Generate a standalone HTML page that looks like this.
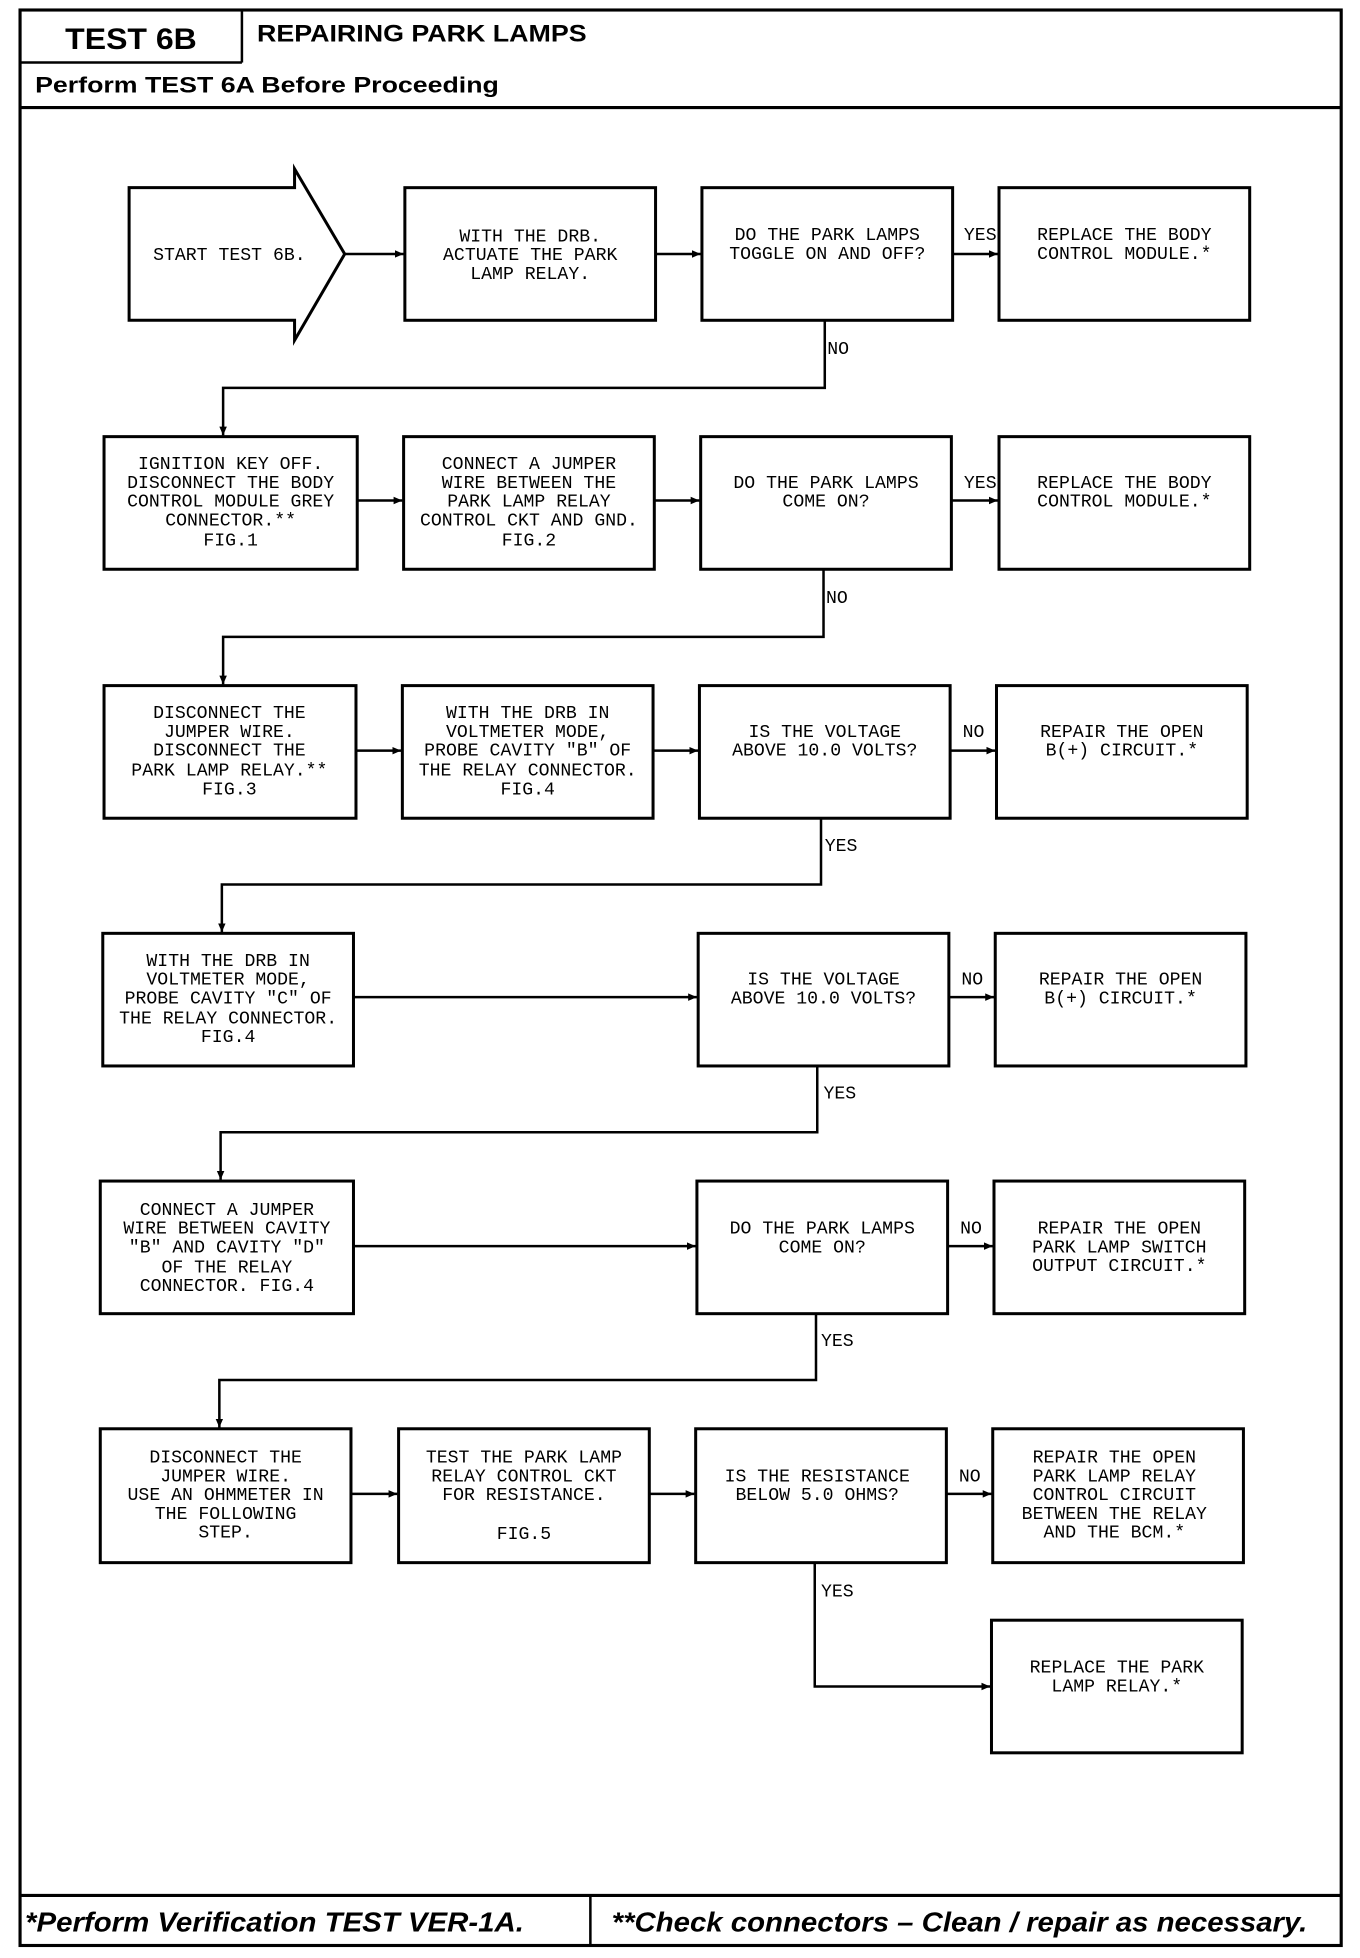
<!DOCTYPE html>
<html><head><meta charset="utf-8"><style>
html,body{margin:0;padding:0;background:#fff;width:1360px;height:1958px;overflow:hidden}
svg{display:block}
.t{font-family:"Liberation Mono",monospace;font-size:14.5px;fill:#000;text-anchor:middle}
.l{font-family:"Liberation Mono",monospace;font-size:14.5px;fill:#000}
.h{font-family:"Liberation Sans",sans-serif;font-weight:bold;fill:#000}
.b{fill:none;stroke:#000;stroke-width:2.4}
.c{fill:none;stroke:#000;stroke-width:2}
</style></head><body>
<svg width="1360" height="1958" viewBox="0 0 1085 1565" preserveAspectRatio="none" xmlns="http://www.w3.org/2000/svg">
<defs><marker id="a" markerWidth="8" markerHeight="8" refX="7" refY="4" orient="auto" markerUnits="userSpaceOnUse"><path d="M0,1 L7,4 L0,7z" fill="#000"/></marker></defs>
<!-- frame -->
<rect x="16" y="8" width="1054" height="1547" fill="none" stroke="#000" stroke-width="2.5"/>
<line x1="193" y1="8" x2="193" y2="50" stroke="#000" stroke-width="2"/>
<line x1="16" y1="50" x2="193" y2="50" stroke="#000" stroke-width="2"/>
<line x1="16" y1="86" x2="1070" y2="86" stroke="#000" stroke-width="2.5"/>
<line x1="16" y1="1515" x2="1070" y2="1515" stroke="#000" stroke-width="2.5"/>
<line x1="471" y1="1515" x2="471" y2="1555" stroke="#000" stroke-width="2"/>
<text class="h" x="52" y="39" font-size="24" textLength="105" lengthAdjust="spacingAndGlyphs">TEST 6B</text>
<text class="h" x="205" y="33" font-size="19" textLength="263" lengthAdjust="spacingAndGlyphs">REPAIRING PARK LAMPS</text>
<text class="h" x="28" y="74" font-size="18" textLength="370" lengthAdjust="spacingAndGlyphs">Perform TEST 6A Before Proceeding</text>
<text class="h" x="20" y="1544" font-size="22" font-style="italic" textLength="398" lengthAdjust="spacingAndGlyphs">*Perform Verification TEST VER-1A.</text>
<text class="h" x="488" y="1544" font-size="22" font-style="italic" textLength="555" lengthAdjust="spacingAndGlyphs">**Check connectors – Clean / repair as necessary.</text>

<!-- row1 -->
<path class="b" d="M103,150 L235,150 L235,135 L275,203 L235,272 L235,256 L103,256 Z"/>
<text class="t" x="183" y="208">START TEST 6B.</text>
<rect class="b" x="323" y="150" width="200" height="106"/>
<text class="t" x="423" y="193">WITH THE DRB.</text><text class="t" x="423" y="208">ACTUATE THE PARK</text><text class="t" x="423" y="223">LAMP RELAY.</text>
<rect class="b" x="560" y="150" width="200" height="106"/>
<text class="t" x="660" y="192">DO THE PARK LAMPS</text><text class="t" x="660" y="207">TOGGLE ON AND OFF?</text>
<rect class="b" x="797" y="150" width="200" height="106"/>
<text class="t" x="897" y="192">REPLACE THE BODY</text><text class="t" x="897" y="207">CONTROL MODULE.*</text>
<line class="c" x1="275" y1="203" x2="322" y2="203" marker-end="url(#a)"/>
<line class="c" x1="523" y1="203" x2="559" y2="203" marker-end="url(#a)"/>
<line class="c" x1="760" y1="203" x2="796" y2="203" marker-end="url(#a)"/>
<text class="l" x="769" y="192">YES</text>
<polyline class="c" points="658,256 658,310 178,310 178,348" marker-end="url(#a)"/>
<text class="l" x="660" y="283">NO</text>

<!-- row2 -->
<rect class="b" x="83" y="349" width="202" height="106"/>
<text class="t" x="184" y="375">IGNITION KEY OFF.</text><text class="t" x="184" y="390">DISCONNECT THE BODY</text><text class="t" x="184" y="405">CONTROL MODULE GREY</text><text class="t" x="184" y="420">CONNECTOR.**</text><text class="t" x="184" y="436">FIG.1</text>
<rect class="b" x="322" y="349" width="200" height="106"/>
<text class="t" x="422" y="375">CONNECT A JUMPER</text><text class="t" x="422" y="390">WIRE BETWEEN THE</text><text class="t" x="422" y="405">PARK LAMP RELAY</text><text class="t" x="422" y="420">CONTROL CKT AND GND.</text><text class="t" x="422" y="436">FIG.2</text>
<rect class="b" x="559" y="349" width="200" height="106"/>
<text class="t" x="659" y="390">DO THE PARK LAMPS</text><text class="t" x="659" y="405">COME ON?</text>
<rect class="b" x="797" y="349" width="200" height="106"/>
<text class="t" x="897" y="390">REPLACE THE BODY</text><text class="t" x="897" y="405">CONTROL MODULE.*</text>
<line class="c" x1="285" y1="400" x2="321" y2="400" marker-end="url(#a)"/>
<line class="c" x1="522" y1="400" x2="558" y2="400" marker-end="url(#a)"/>
<line class="c" x1="759" y1="400" x2="796" y2="400" marker-end="url(#a)"/>
<text class="l" x="769" y="390">YES</text>
<polyline class="c" points="657,455 657,509 178,509 178,547" marker-end="url(#a)"/>
<text class="l" x="659" y="482">NO</text>

<!-- row3 -->
<rect class="b" x="83" y="548" width="201" height="106"/>
<text class="t" x="183" y="574">DISCONNECT THE</text><text class="t" x="183" y="589">JUMPER WIRE.</text><text class="t" x="183" y="604">DISCONNECT THE</text><text class="t" x="183" y="620">PARK LAMP RELAY.**</text><text class="t" x="183" y="635">FIG.3</text>
<rect class="b" x="321" y="548" width="200" height="106"/>
<text class="t" x="421" y="574">WITH THE DRB IN</text><text class="t" x="421" y="589">VOLTMETER MODE,</text><text class="t" x="421" y="604">PROBE CAVITY "B" OF</text><text class="t" x="421" y="620">THE RELAY CONNECTOR.</text><text class="t" x="421" y="635">FIG.4</text>
<rect class="b" x="558" y="548" width="200" height="106"/>
<text class="t" x="658" y="589">IS THE VOLTAGE</text><text class="t" x="658" y="604">ABOVE 10.0 VOLTS?</text>
<rect class="b" x="795" y="548" width="200" height="106"/>
<text class="t" x="895" y="589">REPAIR THE OPEN</text><text class="t" x="895" y="604">B(+) CIRCUIT.*</text>
<line class="c" x1="284" y1="600" x2="320" y2="600" marker-end="url(#a)"/>
<line class="c" x1="521" y1="600" x2="557" y2="600" marker-end="url(#a)"/>
<line class="c" x1="758" y1="600" x2="794" y2="600" marker-end="url(#a)"/>
<text class="l" x="768" y="589">NO</text>
<polyline class="c" points="655,654 655,707 177,707 177,745" marker-end="url(#a)"/>
<text class="l" x="658" y="680">YES</text>

<!-- row4 -->
<rect class="b" x="82" y="746" width="200" height="106"/>
<text class="t" x="182" y="772">WITH THE DRB IN</text><text class="t" x="182" y="787">VOLTMETER MODE,</text><text class="t" x="182" y="802">PROBE CAVITY "C" OF</text><text class="t" x="182" y="818">THE RELAY CONNECTOR.</text><text class="t" x="182" y="833">FIG.4</text>
<rect class="b" x="557" y="746" width="200" height="106"/>
<text class="t" x="657" y="787">IS THE VOLTAGE</text><text class="t" x="657" y="802">ABOVE 10.0 VOLTS?</text>
<rect class="b" x="794" y="746" width="200" height="106"/>
<text class="t" x="894" y="787">REPAIR THE OPEN</text><text class="t" x="894" y="802">B(+) CIRCUIT.*</text>
<line class="c" x1="282" y1="797" x2="556" y2="797" marker-end="url(#a)"/>
<line class="c" x1="757" y1="797" x2="793" y2="797" marker-end="url(#a)"/>
<text class="l" x="767" y="787">NO</text>
<polyline class="c" points="652,852 652,905 176,905 176,943" marker-end="url(#a)"/>
<text class="l" x="657" y="878">YES</text>

<!-- row5 -->
<rect class="b" x="80" y="944" width="202" height="106"/>
<text class="t" x="181" y="971">CONNECT A JUMPER</text><text class="t" x="181" y="986">WIRE BETWEEN CAVITY</text><text class="t" x="181" y="1001">"B" AND CAVITY "D"</text><text class="t" x="181" y="1017">OF THE RELAY</text><text class="t" x="181" y="1032">CONNECTOR. FIG.4</text>
<rect class="b" x="556" y="944" width="200" height="106"/>
<text class="t" x="656" y="986">DO THE PARK LAMPS</text><text class="t" x="656" y="1001">COME ON?</text>
<rect class="b" x="793" y="944" width="200" height="106"/>
<text class="t" x="893" y="986">REPAIR THE OPEN</text><text class="t" x="893" y="1001">PARK LAMP SWITCH</text><text class="t" x="893" y="1016">OUTPUT CIRCUIT.*</text>
<line class="c" x1="282" y1="996" x2="555" y2="996" marker-end="url(#a)"/>
<line class="c" x1="756" y1="996" x2="792" y2="996" marker-end="url(#a)"/>
<text class="l" x="766" y="986">NO</text>
<polyline class="c" points="651,1050 651,1103 175,1103 175,1141" marker-end="url(#a)"/>
<text class="l" x="655" y="1076">YES</text>

<!-- row6 -->
<rect class="b" x="80" y="1142" width="200" height="107"/>
<text class="t" x="180" y="1169">DISCONNECT THE</text><text class="t" x="180" y="1184">JUMPER WIRE.</text><text class="t" x="180" y="1199">USE AN OHMMETER IN</text><text class="t" x="180" y="1214">THE FOLLOWING</text><text class="t" x="180" y="1229">STEP.</text>
<rect class="b" x="318" y="1142" width="200" height="107"/>
<text class="t" x="418" y="1169">TEST THE PARK LAMP</text><text class="t" x="418" y="1184">RELAY CONTROL CKT</text><text class="t" x="418" y="1199">FOR RESISTANCE.</text><text class="t" x="418" y="1230">FIG.5</text>
<rect class="b" x="555" y="1142" width="200" height="107"/>
<text class="t" x="652" y="1184">IS THE RESISTANCE</text><text class="t" x="652" y="1199">BELOW 5.0 OHMS?</text>
<rect class="b" x="792" y="1142" width="200" height="107"/>
<text class="t" x="889" y="1169">REPAIR THE OPEN</text><text class="t" x="889" y="1184">PARK LAMP RELAY</text><text class="t" x="889" y="1199">CONTROL CIRCUIT</text><text class="t" x="889" y="1214">BETWEEN THE RELAY</text><text class="t" x="889" y="1229">AND THE BCM.*</text>
<line class="c" x1="280" y1="1194" x2="317" y2="1194" marker-end="url(#a)"/>
<line class="c" x1="518" y1="1194" x2="554" y2="1194" marker-end="url(#a)"/>
<line class="c" x1="755" y1="1194" x2="791" y2="1194" marker-end="url(#a)"/>
<text class="l" x="765" y="1184">NO</text>
<polyline class="c" points="650,1249 650,1348 790,1348" marker-end="url(#a)"/>
<text class="l" x="655" y="1276">YES</text>

<!-- row7 -->
<rect class="b" x="791" y="1295" width="200" height="106"/>
<text class="t" x="891" y="1337">REPLACE THE PARK</text><text class="t" x="891" y="1352">LAMP RELAY.*</text>
</svg>
</body></html>
